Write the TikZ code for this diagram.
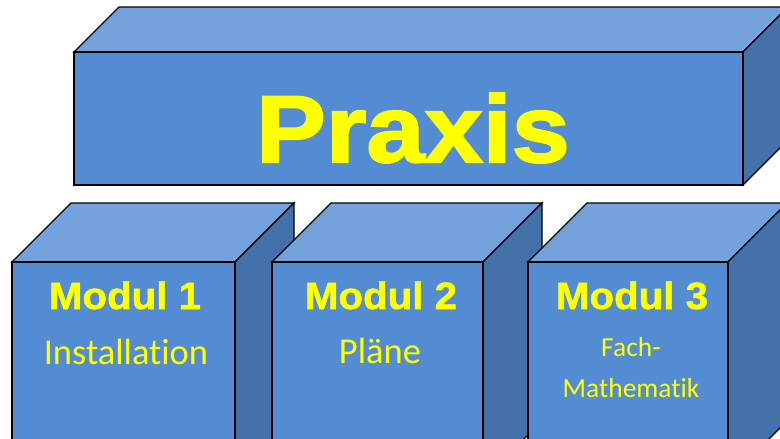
\documentclass[tikz,border=0pt]{standalone}
\usepackage{fontspec}
\setmainfont[Ligatures=NoCommon]{Carlito}
\newfontfamily\headfont[FakeStretch=1.1,FakeBold=2.2]{Liberation Sans Bold}
\newfontfamily\modfont[FakeStretch=1.06,FakeBold=1.4]{Liberation Sans Bold}
\definecolor{facefront}{HTML}{538CD3}
\definecolor{facetop}{HTML}{73A2DD}
\definecolor{faceside}{HTML}{4471A9}
\definecolor{labelyellow}{HTML}{FFFF00}
\tikzset{
  edge/.style={draw=black, line width=1.3pt, line join=miter},
  headlabel/.style={text=labelyellow, inner sep=0pt, anchor=base, font=\headfont\fontsize{95}{100}\selectfont},
  modlabel/.style={text=labelyellow, inner sep=0pt, anchor=base, font=\modfont\fontsize{38}{42}\selectfont},
  sublabel/.style={text=labelyellow, inner sep=0pt, anchor=base, font=\fontsize{36.5}{40}\selectfont},
  smalllabel/.style={text=labelyellow, inner sep=0pt, anchor=base, font=\fontsize{27.5}{30}\selectfont},
}
% block: front face from (#1,#2) to (#3,#4), depth #5 towards the upper right
\newcommand\blockbox[5]{%
  \filldraw[edge, fill=facetop] (#1,#2) -- ({#1+#5},{#2-#5}) -- ({#3+#5},{#2-#5}) -- (#3,#2) -- cycle;
  \filldraw[edge, fill=faceside] (#3,#2) -- ({#3+#5},{#2-#5}) -- ({#3+#5},{#4-#5}) -- (#3,#4) -- cycle;
  \filldraw[edge, fill=facefront] (#1,#2) rectangle (#3,#4);
}
\begin{document}
\begin{tikzpicture}[x=1pt,y=-1pt]
\useasboundingbox (0,0) rectangle (780,439);
\clip (0,0) rectangle (780,439);
% top block
\blockbox{74}{52}{743}{185}{45}
\node[headlabel] (praxis) at (413,162) {Praxis};
% module blocks, each drawn over its left neighbour
\blockbox{12}{262}{235}{480}{59}
\node[modlabel] (m1) at (125,309) {Modul 1};
\node[sublabel] (m1t) at (126,364) {Installation};
\blockbox{272}{262}{483}{480}{59}
\node[modlabel] (m2) at (381,309) {Modul 2};
\node[sublabel] (m2t) at (380,363) {Pläne};
\blockbox{528}{262}{728}{480}{59}
\node[modlabel] (m3) at (632,309) {Modul 3};
\node[smalllabel] (m3a) at (631,356) {Fach-};
\node[smalllabel] (m3b) at (631,397) {Mathematik};
\end{tikzpicture}
\end{document}
